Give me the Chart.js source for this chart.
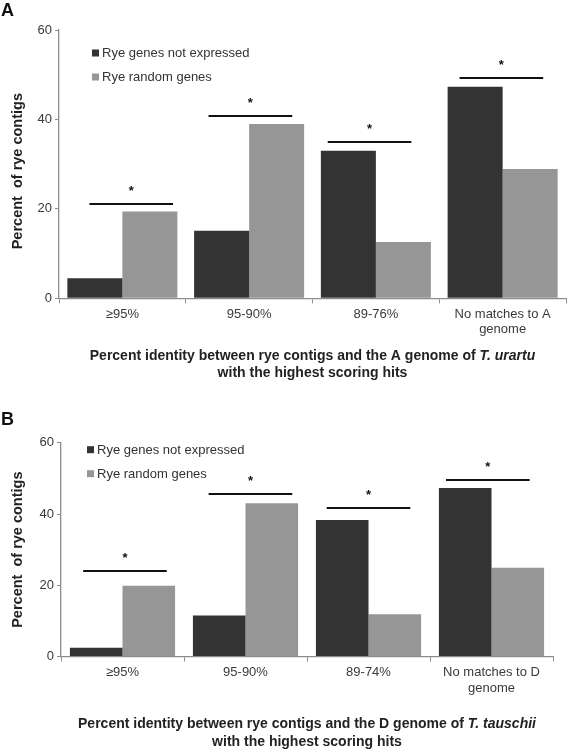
<!DOCTYPE html>
<html><head><meta charset="utf-8">
<script src="https://cdn.jsdelivr.net/npm/chart.js@4.4.1/dist/chart.umd.min.js"></script>
<style>
html,body{margin:0;padding:0;background:#fff;}
#wrap{position:relative;width:567px;height:750px;overflow:hidden;background:#fff;}
.box{position:absolute;left:0;width:567px;}
</style></head><body>
<div id="wrap">
<div class="box" style="top:0;height:385px"><canvas id="cA"></canvas></div>
<div class="box" style="top:385px;height:365px"><canvas id="cB"></canvas></div>
</div>
<script>
// ---- data ----
const seriesNames = ['Rye genes not expressed', 'Rye random genes'];
const seriesColors = ['#333333', '#969696'];
const yTicks = [0, 20, 40, 60];
const yTitle = 'Percent  of rye contigs';
const sigMark = '*';

const categoriesA = ['≥95%', '95-90%', '89-76%', ['No matches to A', 'genome']];
const notExpressedA = [4.5, 15.1, 33.0, 47.3];
const randomA = [19.4, 39.0, 12.6, 28.9];
const sigLevelA = [21.2, 40.8, 34.9, 49.35];
const sigShiftA = [0.07, 0.01, -0.05, -0.01];
const xTitleA = [
  [['Percent identity between rye contigs and the A genome of ', false], ['T. urartu', true]],
  [['with the highest scoring hits', false]]
];

const categoriesB = ['≥95%', '95-90%', '89-74%', ['No matches to D', 'genome']];
const notExpressedB = [2.5, 11.5, 38.3, 47.3];
const randomB = [19.9, 43.0, 11.9, 24.9];
const sigLevelB = [24.1, 45.6, 41.8, 49.6];
const sigShiftB = [0.02, 0.04, 0.0, -0.03];
const xTitleB = [
  [['Percent identity between rye contigs and the D genome of ', false], ['T. tauschii', true]],
  [['with the highest scoring hits', false]]
];

const FF = '"Liberation Sans", Arial, Helvetica, sans-serif';

const extrasPlugin = {
  id: 'extras',
  afterDraw(chart, args, o) {
    const ctx = chart.ctx;
    const ca = chart.chartArea;
    const xs = chart.scales.x, ys = chart.scales.y;
    ctx.save();
    // panel letter
    ctx.fillStyle = '#111';
    ctx.font = 'bold 18px ' + FF;
    ctx.textBaseline = 'middle';
    ctx.textAlign = 'left';
    ctx.fillText(o.panel, 1, o.panelY);
    // y title
    ctx.save();
    ctx.translate(18, (ca.top + ca.bottom) / 2 + o.yTitleDY);
    ctx.rotate(-Math.PI / 2);
    ctx.textAlign = 'center';
    ctx.textBaseline = 'middle';
    ctx.fillStyle = '#222';
    ctx.font = 'bold 14.5px ' + FF;
    ctx.fillText(yTitle, 0, 0);
    ctx.restore();
    // legend
    ctx.font = '13px ' + FF;
    ctx.textAlign = 'left';
    chart.data.datasets.forEach((ds, i) => {
      const cy = ca.top + o.legendDY[i];
      ctx.fillStyle = ds.backgroundColor;
      ctx.fillRect(ca.left + o.legendDX, cy - 3.5, 7, 7);
      ctx.fillStyle = '#333';
      ctx.textBaseline = 'middle';
      ctx.fillText(ds.label, ca.left + o.legendDX + 10, cy + 0.5);
    });
    // significance bars
    ctx.strokeStyle = '#111';
    ctx.lineWidth = 2;
    ctx.fillStyle = '#111';
    ctx.textAlign = 'center';
    ctx.textBaseline = 'alphabetic';
    o.levels.forEach((lv, i) => {
      const c = i + o.shifts[i];
      const x1 = xs.getPixelForValue(c - o.half);
      const x2 = xs.getPixelForValue(c + o.half);
      const y = Math.round(ys.getPixelForValue(lv));
      ctx.beginPath();
      ctx.moveTo(x1, y);
      ctx.lineTo(x2, y);
      ctx.stroke();
      ctx.font = 'bold 13px ' + FF;
      ctx.fillText(sigMark, (x1 + x2) / 2, y - 9);
    });
    // x title (rich text)
    const cx = (ca.left + ca.right) / 2;
    ctx.fillStyle = '#222';
    ctx.textBaseline = 'middle';
    ctx.textAlign = 'left';
    o.title.forEach((line, li) => {
      const y = ca.bottom + o.titleDY[li];
      let w = 0;
      line.forEach(([t, it]) => { ctx.font = (it ? 'italic ' : '') + 'bold 14px ' + FF; w += ctx.measureText(t).width; });
      let x = cx - w / 2;
      line.forEach(([t, it]) => {
        ctx.font = (it ? 'italic ' : '') + 'bold 14px ' + FF;
        ctx.fillText(t, x, y);
        x += ctx.measureText(t).width;
      });
    });
    ctx.restore();
  }
};

function makeChart(id, cats, s1, s2, levels, shifts, title, cfg) {
  return new Chart(document.getElementById(id), {
    type: 'bar',
    data: {
      labels: cats,
      datasets: [
        { label: seriesNames[0], data: s1, backgroundColor: seriesColors[0], borderWidth: 0 },
        { label: seriesNames[1], data: s2, backgroundColor: seriesColors[1], borderWidth: 0 }
      ]
    },
    options: {
      responsive: true,
      maintainAspectRatio: false,
      animation: false,
      devicePixelRatio: 1,
      layout: { padding: { top: cfg.top, right: cfg.right, left: 0, bottom: 0 } },
      datasets: { bar: { barPercentage: 1.0, categoryPercentage: cfg.catPct } },
      plugins: {
        legend: { display: false },
        tooltip: { enabled: false },
        extras: {
          panel: cfg.panel, panelY: cfg.panelY, legendDX: cfg.legendDX, legendDY: cfg.legendDY,
          levels: levels, shifts: shifts, half: cfg.half, title: title, titleDY: cfg.titleDY,
          yTitleDY: cfg.yTitleDY
        }
      },
      scales: {
        x: {
          afterFit: s => { s.height = cfg.xH; },
          grid: { display: true, drawOnChartArea: false, offset: true, tickLength: 5, color: '#8c8c8c', lineWidth: 1 },
          border: { display: true, color: '#8c8c8c', width: 1.3 },
          ticks: { font: { family: FF, size: 13 }, color: '#3a3a3a', padding: 3, maxRotation: 0, autoSkip: false }
        },
        y: {
          min: yTicks[0], max: yTicks[yTicks.length - 1],
          afterBuildTicks: s => { s.ticks = yTicks.map(v => ({ value: v })); },
          afterFit: s => { s.width = cfg.left; },
          grid: { display: true, drawOnChartArea: false, tickLength: 4, color: '#8c8c8c', lineWidth: 1 },
          border: { display: true, color: '#8c8c8c', width: 1.3 },
          ticks: { font: { family: FF, size: 13 }, color: '#3a3a3a', padding: 3 }
        }
      }
    },
    plugins: [extrasPlugin]
  });
}

makeChart('cA', categoriesA, notExpressedA, randomA, sigLevelA, sigShiftA, xTitleA, {
  top: 30, right: 1, left: 59, xH: 86.7, catPct: 0.868, panel: 'A', panelY: 11,
  legendDX: 33, legendDY: [23, 47], half: 0.33, titleDY: [57.4, 74.7], yTitleDY: 7
});
makeChart('cB', categoriesB, notExpressedB, randomB, sigLevelB, sigShiftB, xTitleB, {
  top: 57.7, right: 14, left: 61, xH: 93.4, catPct: 0.855, panel: 'B', panelY: 35,
  legendDX: 26, legendDY: [7, 31], half: 0.34, titleDY: [68, 85.7], yTitleDY: 0
});
</script>
</body></html>
